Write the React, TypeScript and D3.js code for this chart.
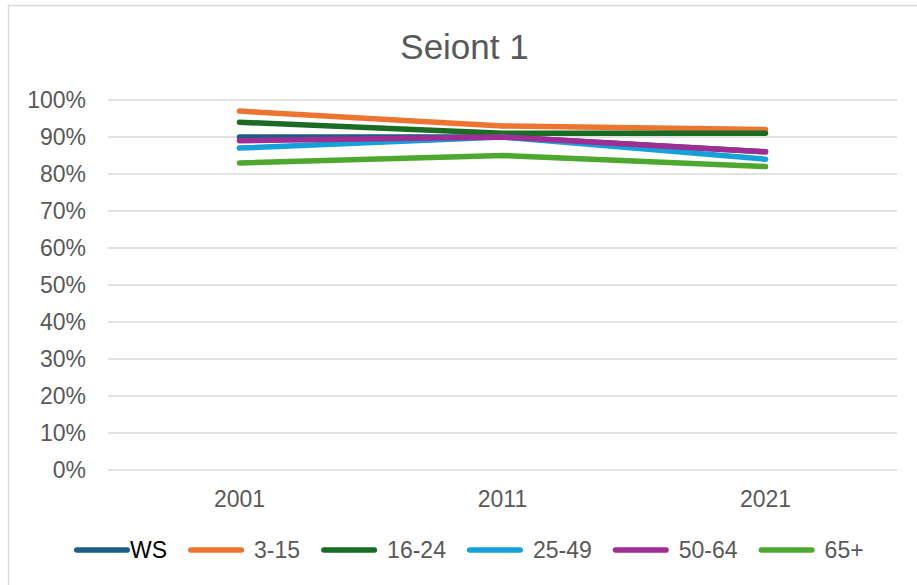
import React, { useEffect, useRef } from 'react';
import * as d3 from 'd3';

const years = ['2001', '2011', '2021'];
const seriesNames = ['WS', '3-15', '16-24', '25-49', '50-64', '65+'];
const seriesColors = ['#1b5e85', '#ed7532', '#1a6b24', '#14a0d8', '#a02d92', '#4ea72e'];
const wsValues = [0.90, 0.90, 0.86];
const age3to15 = [0.97, 0.93, 0.92];
const age16to24 = [0.94, 0.91, 0.91];
const age25to49 = [0.87, 0.90, 0.84];
const age50to64 = [0.89, 0.90, 0.86];
const age65plus = [0.83, 0.85, 0.82];
const yTicks = [0, 0.1, 0.2, 0.3, 0.4, 0.5, 0.6, 0.7, 0.8, 0.9, 1.0];

const allSeries = [wsValues, age3to15, age16to24, age25to49, age50to64, age65plus];

export default function App() {
  const svgRef = useRef<SVGSVGElement>(null);

  useEffect(() => {
    if (!svgRef.current) return;
    const svg = d3.select(svgRef.current);
    svg.selectAll('*').remove();

    const width = 917;
    const height = 585;
    const font = '"Liberation Sans", Arial, sans-serif';
    const grey = '#595959';

    svg.attr('width', width).attr('height', height);

    svg.append('rect')
      .attr('width', width).attr('height', height).attr('fill', '#fff');

    // chart frame (runs off the right and bottom edges)
    svg.append('rect')
      .attr('x', 8.5).attr('y', 5.5)
      .attr('width', 920).attr('height', 600)
      .attr('fill', 'none')
      .attr('stroke', '#d9d9d9')
      .attr('stroke-width', 1.5);

    svg.append('text')
      .attr('x', 464.5).attr('y', 59)
      .attr('text-anchor', 'middle')
      .attr('font-family', font)
      .attr('font-size', 35)
      .attr('fill', grey)
      .text('Seiont 1');

    const x = d3.scaleBand<string>().domain(years).range([108, 897]).padding(0);
    const y = d3.scaleLinear().domain([0, 1]).range([470, 100]);

    // gridlines + y labels
    const yg = svg.append('g');
    yTicks.forEach(t => {
      yg.append('line')
        .attr('x1', 108).attr('x2', 897)
        .attr('y1', y(t)).attr('y2', y(t))
        .attr('stroke', '#d9d9d9')
        .attr('stroke-width', 1.5);
      yg.append('text')
        .attr('x', 86).attr('y', y(t))
        .attr('dy', '0.36em')
        .attr('text-anchor', 'end')
        .attr('font-family', font)
        .attr('font-size', 23)
        .attr('fill', grey)
        .text(d3.format('.0%')(t));
    });

    // x labels
    years.forEach(yr => {
      svg.append('text')
        .attr('x', (x(yr) as number) + x.bandwidth() / 2)
        .attr('y', 507)
        .attr('text-anchor', 'middle')
        .attr('font-family', font)
        .attr('font-size', 23)
        .attr('fill', grey)
        .text(yr);
    });

    const line = d3.line<number>()
      .x((_, i) => (x(years[i]) as number) + x.bandwidth() / 2)
      .y(d => y(d));

    allSeries.forEach((vals, i) => {
      svg.append('path')
        .datum(vals)
        .attr('d', line)
        .attr('fill', 'none')
        .attr('stroke', seriesColors[i])
        .attr('stroke-width', 5.5)
        .attr('stroke-linecap', 'round')
        .attr('stroke-linejoin', 'round');
    });

    // legend
    const lg = svg.append('g');
    let lx = 74;
    const ly = 550;
    const swatch = 56;
    seriesNames.forEach((name, i) => {
      lg.append('line')
        .attr('x1', lx + 2.75).attr('x2', lx + swatch - 2.75)
        .attr('y1', ly).attr('y2', ly)
        .attr('stroke', seriesColors[i])
        .attr('stroke-width', 5.5)
        .attr('stroke-linecap', 'round');
      const gap = i === 0 ? 0 : 10;
      const txt = lg.append('text')
        .attr('x', lx + swatch + gap).attr('y', 558)
        .attr('font-family', font)
        .attr('font-size', 23)
        .attr('fill', i === 0 ? '#000' : grey)
        .text(name);
      const w = (txt.node() as SVGTextElement).getComputedTextLength();
      lx = lx + swatch + gap + w + 21;
    });
  }, []);

  return (
    <svg ref={svgRef} style={{ position: 'absolute', left: 0, top: 0, display: 'block' }} />
  );
}
